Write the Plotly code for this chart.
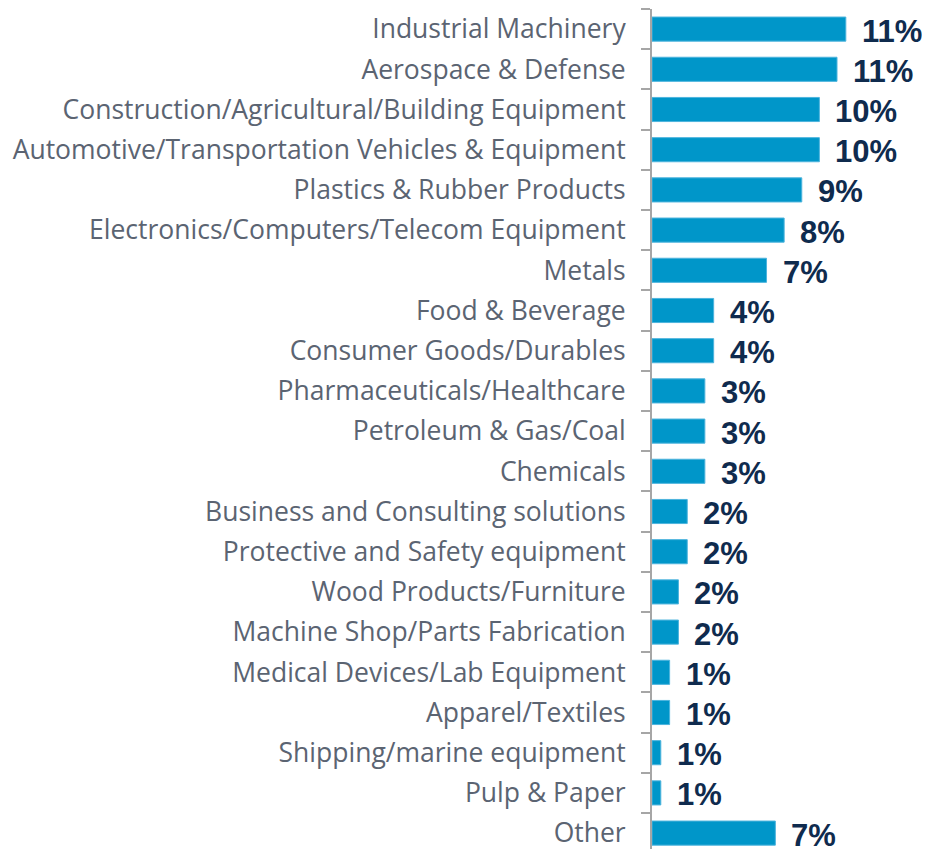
import plotly.graph_objects as go

categories = [
    "Industrial Machinery",
    "Aerospace & Defense",
    "Construction/Agricultural/Building Equipment",
    "Automotive/Transportation Vehicles & Equipment",
    "Plastics & Rubber Products",
    "Electronics/Computers/Telecom Equipment",
    "Metals",
    "Food & Beverage",
    "Consumer Goods/Durables",
    "Pharmaceuticals/Healthcare",
    "Petroleum & Gas/Coal",
    "Chemicals",
    "Business and Consulting solutions",
    "Protective and Safety equipment",
    "Wood Products/Furniture",
    "Machine Shop/Parts Fabrication",
    "Medical Devices/Lab Equipment",
    "Apparel/Textiles",
    "Shipping/marine equipment",
    "Pulp & Paper",
    "Other",
]
values = [11.0, 10.5, 9.5, 9.5, 8.5, 7.5, 6.5, 3.5, 3.5, 3.0, 3.0, 3.0,
          2.0, 2.0, 1.5, 1.5, 1.0, 1.0, 0.5, 0.5, 7.0]
value_labels = ["11%", "11%", "10%", "10%", "9%", "8%", "7%", "4%", "4%", "3%", "3%", "3%",
                "2%", "2%", "2%", "2%", "1%", "1%", "1%", "1%", "7%"]

BAR_COLOR = "#0096C9"
LABEL_COLOR = "#0F2B4E"
TICK_COLOR = "#5B6472"
AXIS_COLOR = "#A6A6A6"

fig = go.Figure()
fig.add_trace(go.Bar(
    x=values,
    y=categories,
    orientation="h",
    marker=dict(color=BAR_COLOR, line=dict(color="#4DB4DD", width=1)),
    hoverinfo="skip",
))

for cat, v, lab in zip(categories, values, value_labels):
    fig.add_annotation(
        x=v, y=cat, text=lab, showarrow=False,
        xanchor="left", yanchor="middle", xshift=14, yshift=-2,
        font=dict(family="Liberation Sans, Arial, sans-serif", size=31, color=LABEL_COLOR, weight="bold"),
    )

# the page body adds an 8px offset; size the figure so it ends at the window edge
W, H = 922, 841
plot_w = 278
px_per_pct = 17.62
n = len(categories)
fig.update_layout(
    template="none",
    width=W, height=H,
    margin=dict(l=W - plot_w, r=0, t=1, b=0, pad=0),
    paper_bgcolor="white", plot_bgcolor="white",
    bargap=0.4,
    showlegend=False,
    xaxis=dict(range=[0, plot_w / px_per_pct], visible=False, fixedrange=True, automargin=False),
    yaxis=dict(
        type="category",
        categoryorder="array",
        categoryarray=categories[::-1],
        range=[n - 0.5 - 840.0 / 40.2, n - 0.5],
        automargin=False,
        showline=True, linecolor=AXIS_COLOR, linewidth=2,
        ticks="outside", tickson="boundaries", ticklen=9, tickcolor=AXIS_COLOR, tickwidth=2,
        ticklabelstandoff=19,
        tickfont=dict(family="Open Sans, Arial, sans-serif", size=26.5, color=TICK_COLOR),
        showgrid=False, zeroline=False, fixedrange=True,
    ),
)

fig.write_html("out.html")
